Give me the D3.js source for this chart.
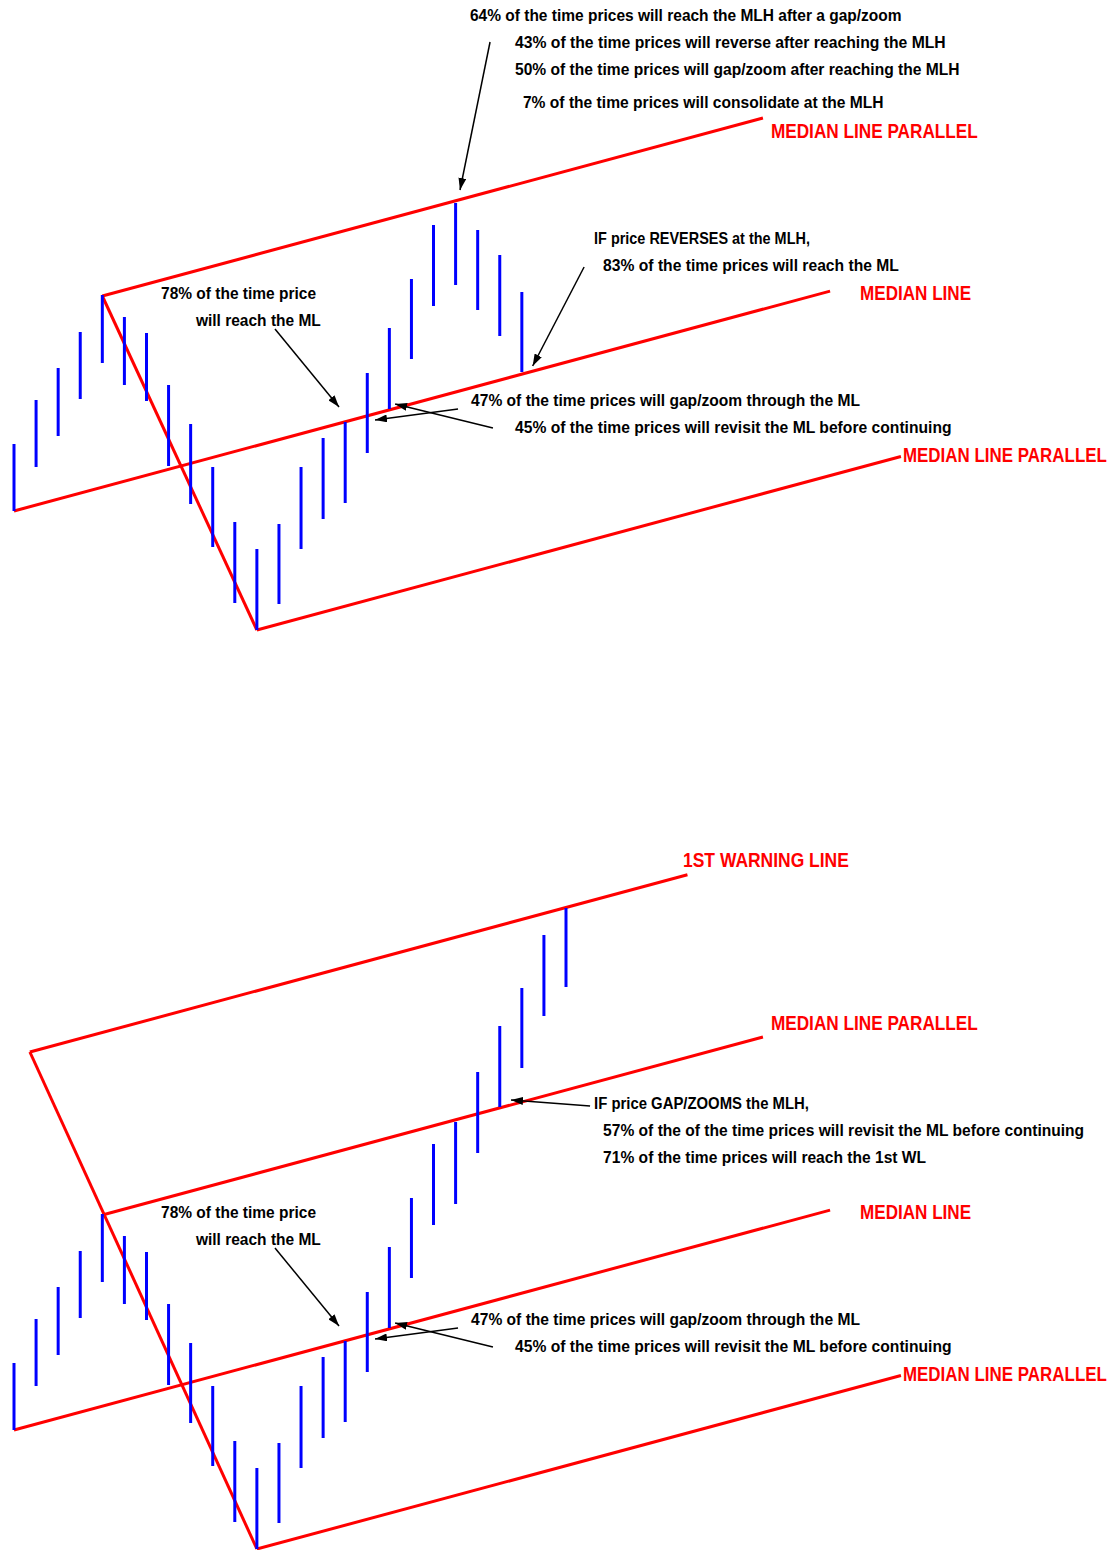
<html>
<head>
  <style>
    body {
      margin: 0;
      background: #fff;
    }
    .bar {
      stroke: #0000ff;
      stroke-width: 3px;
    }
    .fork {
      stroke: #ff0000;
      stroke-width: 3px;
      fill: none;
    }
    .note {
      font-family: "Liberation Sans Narrow", "Arial Narrow", "Liberation Sans", Arial, sans-serif;
      font-weight: bold;
      font-size: 16.5px;
      fill: #000;
    }
    .tag {
      font-family: "Liberation Sans Narrow", "Arial Narrow", "Liberation Sans", Arial, sans-serif;
      font-weight: bold;
      font-size: 21px;
      fill: #ff0000;
    }
    .pointer {
      stroke: #000;
      stroke-width: 1.5px;
    }
  </style>
</head>
<body>
  <div class="chart"></div>

  <script src="https://cdn.jsdelivr.net/npm/d3@7"></script>
  <script>
    // price bars, one per session (high / low)
    let topHigh = [256, 300, 332, 368, 405, 383, 367, 315, 276, 233, 178, 151,
      176, 233, 262, 278, 327, 372, 421, 475, 497, 470, 445, 408];
    let topLow = [189, 233, 264, 301, 337, 315, 299, 234, 196, 153, 97, 70,
      96, 151, 181, 197, 247, 291, 341, 394, 415, 390, 364, 328];

    let botHigh = [256, 300, 332, 368, 405, 383, 367, 315, 276, 233, 178, 151,
      176, 233, 262, 278, 327, 372, 421, 475, 497, 547, 593, 631, 684, 711];
    let botLow = [189, 233, 264, 301, 337, 315, 299, 234, 196, 153, 97, 70,
      96, 151, 181, 197, 247, 291, 341, 394, 415, 466, 512, 551, 603, 632];

    // pitchfork: pivots [bar, price], slope in price per bar, end bar of each tine
    let forkSlope = 5.95;
    let pivotA = [0, 189];
    let pivotB = [4, 404];
    let pivotC = [11, 70];
    let warnStart = [0.72, 567];
    let endML = 36.96, endUpper = 33.92, endLower = 40.17, endWarn = 30.5;

    // annotations, anchored in [bar, price], last value is text length
    let topNotes = [
      ["64% of the time prices will reach the MLH after a gap/zoom", 20.65, 679, 432],
      ["43% of the time prices will reverse after reaching the MLH", 22.69, 652, 431],
      ["50% of the time prices will gap/zoom after reaching the MLH", 22.69, 625, 445],
      ["7% of the time prices will consolidate at the MLH", 23.05, 592, 361],
      ["IF price REVERSES at the MLH,", 26.27, 456, 216],
      ["83% of the time prices will reach the ML", 26.68, 429, 296]
    ];
    let botNotes = [
      ["IF price GAP/ZOOMS the MLH,", 26.27, 510, 215],
      ["57% of the of the time prices will revisit the ML before continuing", 26.68, 483, 481],
      ["71% of the time prices will reach the 1st WL", 26.68, 456, 323]
    ];
    let sharedNotes = [
      ["78% of the time price", 6.66, 401, 155],
      ["will reach the ML", 8.24, 374, 125],
      ["47% of the time prices will gap/zoom through the ML", 20.70, 294, 389],
      ["45% of the time prices will revisit the ML before continuing", 22.69, 267, 437]
    ];

    let topTags = [["MEDIAN LINE PARALLEL", 34.28, 562.5, 207]];
    let botTags = [
      ["1ST WARNING LINE", 30.30, 752.5, 166],
      ["MEDIAN LINE PARALLEL", 34.28, 589.5, 207]
    ];
    let sharedTags = [
      ["MEDIAN LINE", 38.32, 400.5, 111],
      ["MEDIAN LINE PARALLEL", 40.26, 238.5, 204]
    ];

    // arrows: [fromBar, fromPrice, toBar, toPrice]
    let topArrows = [
      [21.56, 658, 20.20, 510],
      [25.82, 433, 23.49, 334]
    ];
    let botArrows = [
      [26.09, 513, 22.51, 519]
    ];
    let sharedArrows = [
      [11.82, 371, 14.72, 293],
      [20.11, 291, 16.35, 280],
      [21.69, 272, 17.26, 296]
    ];

    let width = 1117, height = 1550;
    let panelShift = 919;

    let svg = d3.select(".chart").append("svg")
      .attr("width", width)
      .attr("height", height);

    svg.append("defs").append("marker")
      .attr("id", "head")
      .attr("viewBox", "0 0 12 8")
      .attr("refX", 12)
      .attr("refY", 4)
      .attr("markerWidth", 12)
      .attr("markerHeight", 8)
      .attr("markerUnits", "userSpaceOnUse")
      .attr("orient", "auto")
      .append("path")
      .attr("d", "M0,0 L12,4 L0,8 Z")
      .attr("fill", "#000");

    let x = d3.scaleLinear().domain([0, 25]).range([14, 566]);
    let y = d3.scaleLinear().domain([0, 700]).range([700, 0]);

    function tine(start, endBar) {
      return [start, [endBar, start[1] + forkSlope * (endBar - start[0])]];
    }

    // squeeze/stretch each label horizontally to the width seen in the picture
    function addText(g, cls, rows) {
      g.selectAll("." + cls)
        .data(rows)
        .enter().append("text")
        .attr("class", cls)
        .text(function (d) { return d[0]; })
        .attr("transform", function (d) {
          let natural = this.getComputedTextLength() || d[3];
          return "translate(" + x(d[1]) + "," + y(d[2]) + ") scale(" +
            (d[3] / natural) + ",1)";
        });
    }

    function drawPanel(g, high, low, handleStart, tines, notes, tags, arrows) {
      let line = d3.line()
        .x(function (d) { return x(d[0]); })
        .y(function (d) { return y(d[1]); });

      g.selectAll(".fork")
        .data([[handleStart, pivotC]].concat(tines))
        .enter().append("path")
        .attr("class", "fork")
        .attr("d", line);

      g.selectAll(".bar")
        .data(high)
        .enter().append("line")
        .attr("class", "bar")
        .attr("x1", function (d, i) { return x(i); })
        .attr("x2", function (d, i) { return x(i); })
        .attr("y1", function (d) { return y(d); })
        .attr("y2", function (d, i) { return y(low[i]); });

      g.selectAll(".pointer")
        .data(arrows)
        .enter().append("line")
        .attr("class", "pointer")
        .attr("x1", function (d) { return x(d[0]); })
        .attr("y1", function (d) { return y(d[1]); })
        .attr("x2", function (d) { return x(d[2]); })
        .attr("y2", function (d) { return y(d[3]); })
        .attr("marker-end", "url(#head)");

      addText(g, "note", notes);
      addText(g, "tag", tags);
    }

    let topG = svg.append("g");
    drawPanel(topG, topHigh, topLow, pivotB,
      [tine(pivotA, endML), tine(pivotB, endUpper), tine(pivotC, endLower)],
      topNotes.concat(sharedNotes), topTags.concat(sharedTags),
      topArrows.concat(sharedArrows));

    let botG = svg.append("g")
      .attr("transform", "translate(0," + panelShift + ")");
    drawPanel(botG, botHigh, botLow, warnStart,
      [tine(warnStart, endWarn), tine(pivotA, endML), tine(pivotB, endUpper), tine(pivotC, endLower)],
      botNotes.concat(sharedNotes), botTags.concat(sharedTags),
      botArrows.concat(sharedArrows));
  </script>
</body>
</html>
